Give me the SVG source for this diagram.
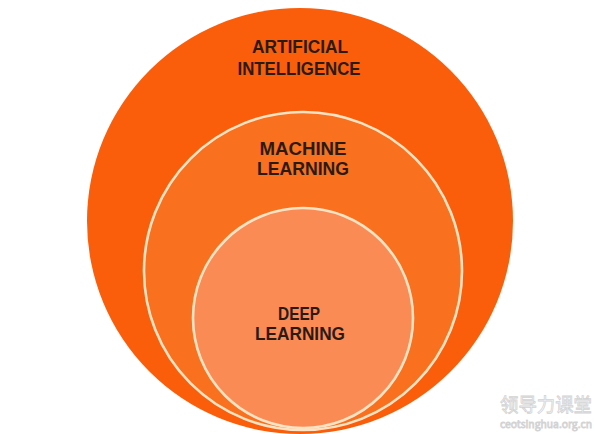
<svg xmlns="http://www.w3.org/2000/svg" width="595" height="434" viewBox="0 0 595 434">
<style>
.lbl{font-family:"Liberation Sans",Arial,sans-serif;font-weight:bold;font-size:18px;fill:#2b1a12;text-anchor:middle}
.ring{stroke:#fbe3c4;stroke-width:2.6}
.wm{font-family:"Noto Sans CJK SC","Noto Sans",sans-serif;fill:#ffffff;stroke:#d2d2d2;stroke-width:0.8}
</style>
<rect width="595" height="434" fill="#ffffff"/>
<g id="ai">
<circle cx="300" cy="221" r="213" fill="#fb5e0b"/>
<text class="lbl" x="300" y="53" textLength="96" lengthAdjust="spacingAndGlyphs">ARTIFICIAL</text>
<text class="lbl" x="299" y="75" textLength="123" lengthAdjust="spacingAndGlyphs">INTELLIGENCE</text>
</g>
<g id="ml">
<circle class="ring" cx="303" cy="271" r="159" fill="#f9701f"/>
<text class="lbl" x="303" y="155" textLength="87" lengthAdjust="spacingAndGlyphs">MACHINE</text>
<text class="lbl" x="303" y="175" textLength="92" lengthAdjust="spacingAndGlyphs">LEARNING</text>
</g>
<g id="dl">
<circle class="ring" cx="303" cy="318" r="110" fill="#fb8b55"/>
<text class="lbl" x="299" y="320" textLength="42" lengthAdjust="spacingAndGlyphs">DEEP</text>
<text class="lbl" x="300" y="340" textLength="90" lengthAdjust="spacingAndGlyphs">LEARNING</text>
</g>
<g id="connectors"></g>
<g id="watermark">
<text class="wm" x="500" y="412" font-size="19" textLength="92" lengthAdjust="spacingAndGlyphs">领导力课堂</text>
<text class="wm" x="500" y="428" font-size="10" stroke-width="0.5" textLength="92" lengthAdjust="spacingAndGlyphs">ceotsinghua.org.cn</text>
</g>
</svg>
